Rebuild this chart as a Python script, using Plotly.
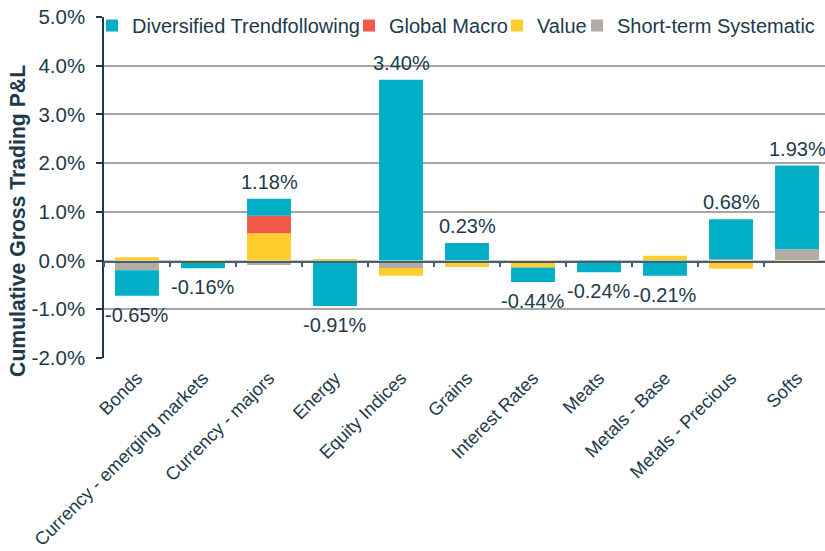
import plotly.graph_objects as go

categories = ["Bonds", "Currency - emerging markets", "Currency - majors", "Energy",
              "Equity Indices", "Grains", "Interest Rates", "Meats", "Metals - Base",
              "Metals - Precious", "Softs"]

trend = [-0.52, -0.14, 0.35, -0.93, 3.71, 0.36, -0.30, -0.24, -0.31, 0.82, 1.72]
macro = [0.00, 0.00, 0.36, 0.00, 0.00, 0.00, 0.00, 0.00, 0.00, 0.00, 0.00]
value = [0.07, -0.02, 0.56, 0.02, -0.16, -0.13, -0.14, 0.00, 0.10, -0.17, -0.02]
short = [-0.20, 0.00, -0.09, 0.00, -0.15, 0.00, 0.00, 0.00, 0.00, 0.03, 0.23]

totals = [-0.65, -0.16, 1.18, -0.91, 3.40, 0.23, -0.44, -0.24, -0.21, 0.68, 1.93]

y_ticks = [-2, -1, 0, 1, 2, 3, 4, 5]

TXT = "#1D3A4B"
FONT = "Liberation Sans, Arial, sans-serif"
Y_MIN, Y_MAX = -2, 5

fig = go.Figure()

series = [
    ("Short-term Systematic", short, "#B3ABA6", "legend4"),
    ("Value", value, "#FFCD2E", "legend3"),
    ("Global Macro", macro, "#F15A4A", "legend2"),
    ("Diversified Trendfollowing", trend, "#00AFC5", "legend"),
]
for name, vals, col, lg in series:
    fig.add_trace(go.Bar(x=categories, y=vals, name=name, marker_color=col,
                         marker_line_width=0, legend=lg))

W_CAT = 66.0
plot_w = 825 - 104
xr = [-0.5, -0.5 + plot_w / W_CAT]
zero_frac = (0 - Y_MIN) / (Y_MAX - Y_MIN)

# invisible trace carrying the zero-line category axis (ticks between categories)
fig.add_trace(go.Scatter(x=categories, y=[0.5] * len(categories), mode="markers",
                         xaxis="x2", yaxis="y2", marker=dict(opacity=0),
                         showlegend=False, hoverinfo="skip"))

# total labels
for i, c in enumerate(categories):
    pos = sum(v[i] for v in (trend, macro, value, short) if v[i] > 0)
    neg = sum(v[i] for v in (trend, macro, value, short) if v[i] < 0)
    if totals[i] >= 0:
        y, ys = pos, 17
    else:
        y, ys = neg, -19
    fig.add_annotation(x=c, y=y, xref="x", yref="y", yshift=ys, yanchor="middle",
                       text=f"{totals[i]:.2f}%", showarrow=False,
                       font=dict(size=20, color=TXT, family=FONT))

# y-axis title
fig.add_annotation(xref="paper", yref="paper", x=0, xshift=-86, y=0.402,
                   text="<b>Cumulative Gross Trading P&L</b>", textangle=-90,
                   showarrow=False, xanchor="center", yanchor="middle",
                   font=dict(size=21.2, color=TXT, family=FONT))

fig.update_layout(
    width=825, height=551,
    margin=dict(l=104, r=0, t=17, b=193, autoexpand=False),
    paper_bgcolor="white", plot_bgcolor="white",
    barmode="relative", bargap=0.335,
    font=dict(family=FONT, color=TXT, size=20),
    xaxis=dict(range=xr, tickangle=-45, showgrid=False, showline=False, ticks="",
               tickfont=dict(size=18.3, color=TXT), categoryorder="array",
               categoryarray=categories, zeroline=False, ticklabelstandoff=5),
    xaxis2=dict(anchor="y2", domain=[0, 1], range=xr,
                showline=True, linecolor="#4A5F6E", linewidth=1.5,
                ticks="outside", tickson="boundaries", ticklen=5, tickwidth=1.5,
                tickcolor="#4A5F6E", showticklabels=False, showgrid=False,
                zeroline=False, categoryorder="array", categoryarray=categories),
    yaxis2=dict(anchor="x2", domain=[zero_frac, zero_frac + 0.001], range=[0, 1],
                visible=False, showgrid=False, zeroline=False),
    yaxis=dict(range=[Y_MIN, Y_MAX], tickvals=y_ticks,
               ticktext=[f"{v:.1f}%" for v in y_ticks],
               showgrid=True, gridcolor="#A6A6A6", gridwidth=1.5, zeroline=False,
               showline=True, linecolor="#1D3A4B", linewidth=1.5,
               ticks="outside", ticklen=6, tickcolor="#1D3A4B", tickwidth=1.5,
               ticklabelstandoff=7, tickfont=dict(size=20.5, color=TXT)),
    showlegend=True,
)

leg_common = dict(orientation="h", yanchor="middle", y=0.975, xanchor="left",
                  bgcolor="rgba(0,0,0,0)", font=dict(size=20, color=TXT, family=FONT))
fig.update_layout(
    legend=dict(x=(92 - 104) / plot_w, **leg_common),
    legend2=dict(x=(349 - 104) / plot_w, **leg_common),
    legend3=dict(x=(497 - 104) / plot_w, **leg_common),
    legend4=dict(x=(577 - 104) / plot_w, **leg_common),
)

fig.write_html("out.html", config={"displayModeBar": False},
               post_script="document.body.style.margin='0';document.body.style.padding='0';")
